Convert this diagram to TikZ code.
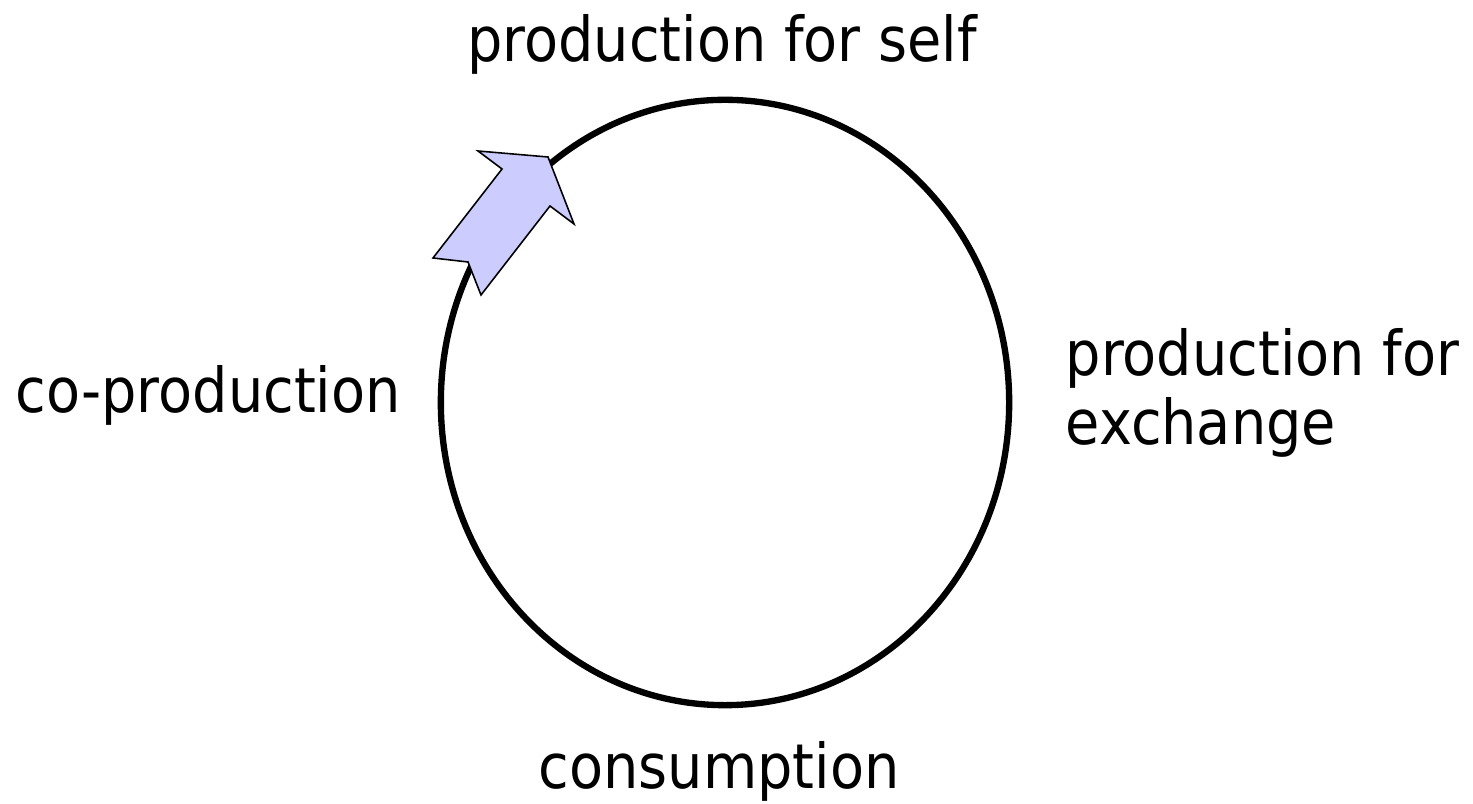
\documentclass[tikz,border=0pt]{standalone}
\usepackage{fontspec}
\setmainfont{DejaVu Sans}[FakeStretch=0.9]
\usepackage{tikz}
\usetikzlibrary{shapes.geometric}
\definecolor{ArrowLilac}{HTML}{CCCCFF}

\begin{document}
\begin{tikzpicture}[x=0.01cm,y=-0.01cm,
 label/.style={inner sep=0pt,font=\fontsize{17.6}{19.9}\selectfont},
 ring/.style={draw=black,ellipse,line width=1.8pt,inner sep=0pt,minimum width=5.68cm,minimum height=6.05cm},
 blockarrow/.style={draw=black,fill=ArrowLilac,line width=0.45pt,line join=miter}]
\useasboundingbox (0,0) rectangle (1473,804);
\node[ring] (cycle) at (725,402.5) {};
\node[label,anchor=base] (self) at (722,62) {production for self};
\node[label,anchor=base west] (coprod) at (15,413) {co-production};
\node[label,anchor=base west,align=left] (exchange) at (1065,445) {production for\\exchange};
\node[label,anchor=base] (consume) at (719,788) {consumption};
\draw[blockarrow] (548,157)--(478,151)--(502,169)--(433,258)--(468,262)--(481,295)--(550,206)--(574,224)--cycle;
\end{tikzpicture}
\end{document}
